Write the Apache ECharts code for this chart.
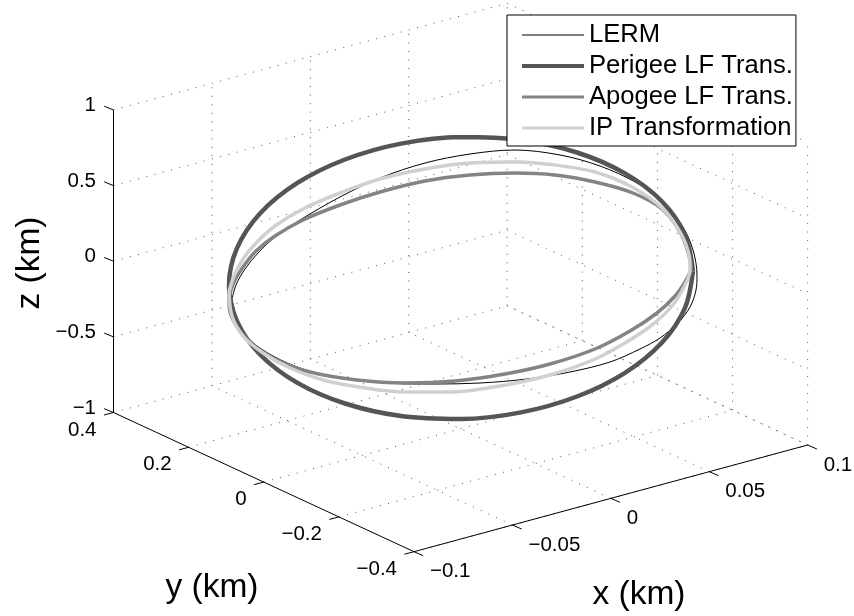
<!DOCTYPE html>
<html><head><meta charset="utf-8">
<style>html,body{margin:0;padding:0;background:#fff}#c{width:854px;height:616px}</style>
<script src="https://cdn.jsdelivr.net/npm/echarts@6/dist/echarts.min.js"></script>
</head><body><div id="c"></div>
<script>
// tick values and labels
const xTicks=[-0.1,-0.05,0,0.05,0.1];
const xTickLabels=['\u22120.1','\u22120.05','0','0.05','0.1'];
const yTicks=[0.4,0.2,0,-0.2,-0.4];
const yTickLabels=['0.4','0.2','0','\u22120.2','\u22120.4'];
const zTicks=[1,0.5,0,-0.5,-1];
const zTickLabels=['1','0.5','0','\u22120.5','\u22121'];
const seriesNames=['LERM','Perigee LF Trans.','Apogee LF Trans.','IP Transformation'];
// orbits, in projected view coordinates
const lerm=[[232,299],[236,285],[245,269],[258,253],[275,237],[300,220],[340,197],[380,178],[425,163],[470,154],[515,150],[560,155],[600,166],[637,183],[665,203],[683,227],[693,250],[697,275],[696,290],[690,307],[678,323],[660,338],[640,349],[610,362],[570,372],[527,379],[480,383],[435,384],[385,383],[340,378],[303,369],[273,356],[250,340],[238,322],[232,299]];
const perigee=[[693,271],[685,235],[662,201.5],[625,173.4],[577,152.5],[521,140],[461,137],[401,143.6],[345,159.5],[297,183.2],[260,213.5],[237,248.2],[229,285],[237,321.2],[260,354.5],[297,382.6],[345,403.5],[401,416],[461,419],[521,412.4],[577,396.5],[625,372.8],[662,342.5],[685,307.8],[693,271]];
const apogee=[[229,297],[234,282],[243,267],[256,251],[275,236],[303,220],[340,205],[380,192],[425,181],[470,175],[515,173],[555,175],[595,182],[633,193],[662,209],[680,232],[689,255],[691,268],[686,280],[675,296],[657,313],[630,331],[595,349],[550,364],[505,374],[455,381],[405,383],[357,380],[310,372],[277,360],[252,344],[238,328],[230,312],[229,297]];
const ip=[[229,292],[234,276],[243,259],[256,243],[275,226],[303,209],[340,193],[380,179],[425,169],[470,163],[515,162],[555,165],[595,172],[632,187],[662,208],[680,232],[689,255],[690,270],[685,285],[672,306],[652,325],[625,343],[593,360],[550,375],[500,386],[450,392],[405,392],[365,388],[323,380],[290,368],[263,353],[243,336],[232,316],[229,292]];

// view of the axes box
const A=[113.5,412.5],B=[414,551.7],C=[807.7,445],ZH=302.5;
const proj=(x,y,z)=>{
  const fx=(x+0.1)/0.2, fy=(0.4-y)/0.8, fz=(z+1)/2;
  return [A[0]+(B[0]-A[0])*fy+(C[0]-B[0])*fx, A[1]+(B[1]-A[1])*fy+(C[1]-B[1])*fx-ZH*fz];
};
const add=(p,d)=>[p[0]+d[0],p[1]+d[1]];
const xMin=xTicks[0],xMax=xTicks[4],yMax=yTicks[0],yMin=yTicks[4],zMax=zTicks[0],zMin=zTicks[4];

const hidden={type:'line',silent:true,symbol:'none',animation:false,clip:false,z:1};
const dotted=(a,b)=>({...hidden,data:[a,b],lineStyle:{color:'#555',width:1,type:[1,7.5]}});
const solid=(a,b)=>({...hidden,data:[a,b],z:3,lineStyle:{color:'#000',width:1}});

const grid=[];
zTicks.forEach(z=>{grid.push(dotted(proj(xMin,yMax,z),proj(xMax,yMax,z)),dotted(proj(xMax,yMax,z),proj(xMax,yMin,z)));});
xTicks.slice(1).forEach(x=>{grid.push(dotted(proj(x,yMax,zMin),proj(x,yMax,zMax)),dotted(proj(x,yMin,zMin),proj(x,yMax,zMin)));});
yTicks.slice(1).forEach(y=>{grid.push(dotted(proj(xMax,y,zMin),proj(xMax,y,zMax)),dotted(proj(xMin,y,zMin),proj(xMax,y,zMin)));});
const axes=[solid(proj(xMin,yMax,zMin),proj(xMin,yMax,zMax)),solid(proj(xMin,yMax,zMin),proj(xMin,yMin,zMin)),solid(proj(xMin,yMin,zMin),proj(xMax,yMin,zMin))];
const texts=[];
zTicks.forEach((z,i)=>{const p=proj(xMin,yMax,z);axes.push(solid(p,add(p,[-9.3,-3.8])));texts.push({p:add(p,[-17.5,-4.5]),t:zTickLabels[i],a:'right',s:20.5});});
yTicks.forEach((y,i)=>{const p=proj(xMin,y,zMin);axes.push(solid(p,add(p,[-9.6,2.5])));texts.push({p:add(p,[-17,17.5]),t:yTickLabels[i],a:'right',s:20.5});});
xTicks.forEach((x,i)=>{const p=proj(x,yMin,zMin);axes.push(solid(p,add(p,[9.2,4])));texts.push({p:add(p,[16,20]),t:xTickLabels[i],a:'left',s:20.5});});
texts.push({p:[212,588],t:'y (km)',a:'center',s:33.5},{p:[639,595],t:'x (km)',a:'center',s:33.5},{p:[30,263],t:'z (km)',a:'center',s:33.5,r:Math.PI/2});

const curve=(name,data,color,width)=>({type:'line',name,data,smooth:0.33,symbol:'none',animation:false,clip:false,z:2,color,lineStyle:{color,width}});
const widths=[1,4,3,3];

const chart=echarts.init(document.getElementById('c'),null,{renderer:'canvas'});
chart.setOption({
  animation:false,
  backgroundColor:'#fff',
  grid:{left:0,right:0,top:0,bottom:0},
  xAxis:{type:'value',min:0,max:854,show:false},
  yAxis:{type:'value',min:0,max:616,inverse:true,show:false},
  tooltip:{show:false},
  legend:{
    data:seriesNames.map((name,i)=>({name,lineStyle:{width:widths[i]},itemStyle:{opacity:0}})),
    orient:'vertical',left:507,top:15,
    align:'left',padding:[7,3,5,13],itemWidth:62,itemHeight:22,itemGap:5,
    backgroundColor:'#fff',borderColor:'#000',borderWidth:1,borderRadius:0,
    selectedMode:false,
    textStyle:{fontFamily:'Liberation Sans',fontSize:25.6,color:'#000'}
  },
  series:[...grid,
    curve(seriesNames[0],lerm,'#000',1),
    curve(seriesNames[1],perigee,'#555',4.5),
    curve(seriesNames[2],apogee,'#848484',3.5),
    curve(seriesNames[3],ip,'#d0d0d0',3.5),
    ...axes,
    {type:'custom',silent:true,clip:false,animation:false,z:5,
     coordinateSystem:'cartesian2d',
     data:texts.map((t,i)=>[t.p[0],t.p[1],i]),
     renderItem:(params,api)=>{
       const t=texts[api.value(2)];
       const c=api.coord([api.value(0),api.value(1)]);
       return {type:'text',x:c[0],y:c[1],rotation:t.r||0,
         style:{text:t.t,font:t.s+'px "Liberation Sans"',fill:'#000',textAlign:t.a,textVerticalAlign:'middle'}};
     }}
  ]
});
</script></body></html>
